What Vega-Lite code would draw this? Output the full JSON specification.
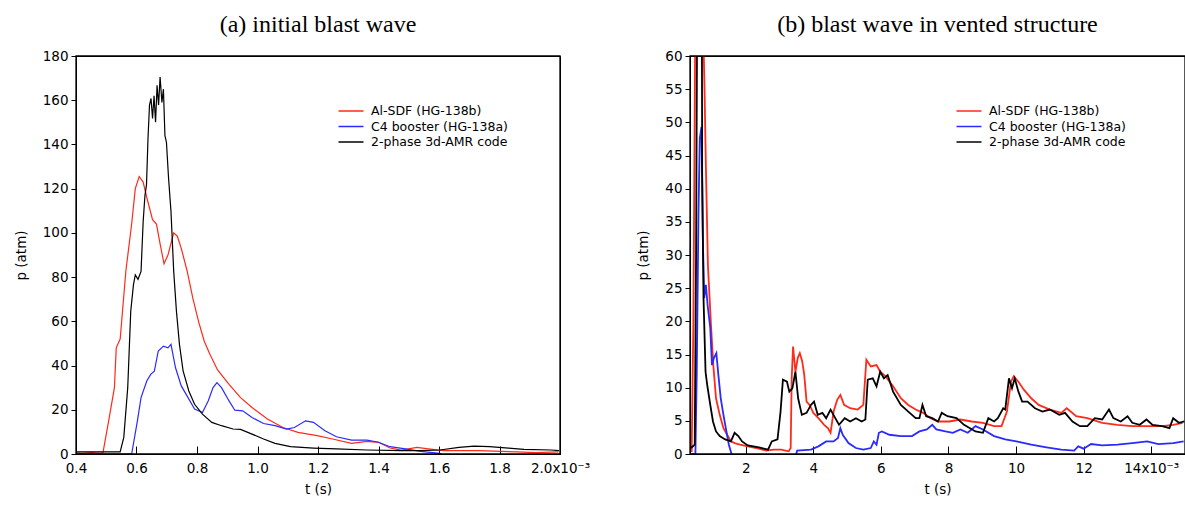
{
  "$schema": "https://vega.github.io/schema/vega-lite/v6.json",
  "padding": {"left": 13, "top": 12, "right": 0, "bottom": 0},
  "background": "white",
  "spacing": 45,
  "datasets": {
    "a": [
      {"series": "Al-SDF (HG-138b)", "t": 0.000400, "p": 0.5},
      {"series": "Al-SDF (HG-138b)", "t": 0.000420, "p": 0.3},
      {"series": "Al-SDF (HG-138b)", "t": 0.000450, "p": 0.6},
      {"series": "Al-SDF (HG-138b)", "t": 0.000470, "p": 0.4},
      {"series": "Al-SDF (HG-138b)", "t": 0.000489, "p": 0.5},
      {"series": "Al-SDF (HG-138b)", "t": 0.000508, "p": 15},
      {"series": "Al-SDF (HG-138b)", "t": 0.000527, "p": 30},
      {"series": "Al-SDF (HG-138b)", "t": 0.000533, "p": 48},
      {"series": "Al-SDF (HG-138b)", "t": 0.000546, "p": 52},
      {"series": "Al-SDF (HG-138b)", "t": 0.000565, "p": 83},
      {"series": "Al-SDF (HG-138b)", "t": 0.000584, "p": 104},
      {"series": "Al-SDF (HG-138b)", "t": 0.000596, "p": 120},
      {"series": "Al-SDF (HG-138b)", "t": 0.000609, "p": 125.5},
      {"series": "Al-SDF (HG-138b)", "t": 0.000622, "p": 123},
      {"series": "Al-SDF (HG-138b)", "t": 0.000634, "p": 116},
      {"series": "Al-SDF (HG-138b)", "t": 0.000653, "p": 106},
      {"series": "Al-SDF (HG-138b)", "t": 0.000666, "p": 104},
      {"series": "Al-SDF (HG-138b)", "t": 0.000678, "p": 95},
      {"series": "Al-SDF (HG-138b)", "t": 0.000691, "p": 86},
      {"series": "Al-SDF (HG-138b)", "t": 0.000704, "p": 90},
      {"series": "Al-SDF (HG-138b)", "t": 0.000723, "p": 100},
      {"series": "Al-SDF (HG-138b)", "t": 0.000735, "p": 98.5},
      {"series": "Al-SDF (HG-138b)", "t": 0.000748, "p": 93},
      {"series": "Al-SDF (HG-138b)", "t": 0.000767, "p": 83},
      {"series": "Al-SDF (HG-138b)", "t": 0.000786, "p": 70.6},
      {"series": "Al-SDF (HG-138b)", "t": 0.000805, "p": 60},
      {"series": "Al-SDF (HG-138b)", "t": 0.000824, "p": 51},
      {"series": "Al-SDF (HG-138b)", "t": 0.000843, "p": 45},
      {"series": "Al-SDF (HG-138b)", "t": 0.000868, "p": 38},
      {"series": "Al-SDF (HG-138b)", "t": 0.000906, "p": 31.5},
      {"series": "Al-SDF (HG-138b)", "t": 0.000944, "p": 25.5},
      {"series": "Al-SDF (HG-138b)", "t": 0.000982, "p": 21},
      {"series": "Al-SDF (HG-138b)", "t": 0.001033, "p": 15.8},
      {"series": "Al-SDF (HG-138b)", "t": 0.001084, "p": 12},
      {"series": "Al-SDF (HG-138b)", "t": 0.001134, "p": 9.8},
      {"series": "Al-SDF (HG-138b)", "t": 0.001197, "p": 8.3},
      {"series": "Al-SDF (HG-138b)", "t": 0.001248, "p": 6.8},
      {"series": "Al-SDF (HG-138b)", "t": 0.001311, "p": 4.8},
      {"series": "Al-SDF (HG-138b)", "t": 0.001362, "p": 5.7},
      {"series": "Al-SDF (HG-138b)", "t": 0.001400, "p": 5.3},
      {"series": "Al-SDF (HG-138b)", "t": 0.001438, "p": 2.7},
      {"series": "Al-SDF (HG-138b)", "t": 0.001476, "p": 1.8},
      {"series": "Al-SDF (HG-138b)", "t": 0.001527, "p": 3},
      {"series": "Al-SDF (HG-138b)", "t": 0.001565, "p": 2.3},
      {"series": "Al-SDF (HG-138b)", "t": 0.001615, "p": 1.5},
      {"series": "Al-SDF (HG-138b)", "t": 0.001729, "p": 1.5},
      {"series": "Al-SDF (HG-138b)", "t": 0.001856, "p": 1},
      {"series": "Al-SDF (HG-138b)", "t": 0.001919, "p": 0.6},
      {"series": "Al-SDF (HG-138b)", "t": 0.001995, "p": 1},

      {"series": "C4 booster (HG-138a)", "t": 0.000400, "p": 0},
      {"series": "C4 booster (HG-138a)", "t": 0.000584, "p": 0},
      {"series": "C4 booster (HG-138a)", "t": 0.000603, "p": 15},
      {"series": "C4 booster (HG-138a)", "t": 0.000615, "p": 25.5},
      {"series": "C4 booster (HG-138a)", "t": 0.000634, "p": 33},
      {"series": "C4 booster (HG-138a)", "t": 0.000647, "p": 36},
      {"series": "C4 booster (HG-138a)", "t": 0.000659, "p": 37.5},
      {"series": "C4 booster (HG-138a)", "t": 0.000672, "p": 46.6},
      {"series": "C4 booster (HG-138a)", "t": 0.000689, "p": 48.8},
      {"series": "C4 booster (HG-138a)", "t": 0.000704, "p": 48},
      {"series": "C4 booster (HG-138a)", "t": 0.000714, "p": 49.6},
      {"series": "C4 booster (HG-138a)", "t": 0.000729, "p": 39},
      {"series": "C4 booster (HG-138a)", "t": 0.000748, "p": 30.8},
      {"series": "C4 booster (HG-138a)", "t": 0.000767, "p": 26.3},
      {"series": "C4 booster (HG-138a)", "t": 0.000792, "p": 20.3},
      {"series": "C4 booster (HG-138a)", "t": 0.000818, "p": 18.8},
      {"series": "C4 booster (HG-138a)", "t": 0.000837, "p": 24},
      {"series": "C4 booster (HG-138a)", "t": 0.000853, "p": 30},
      {"series": "C4 booster (HG-138a)", "t": 0.000866, "p": 32.3},
      {"series": "C4 booster (HG-138a)", "t": 0.000881, "p": 30},
      {"series": "C4 booster (HG-138a)", "t": 0.000906, "p": 24},
      {"series": "C4 booster (HG-138a)", "t": 0.000925, "p": 19.8},
      {"series": "C4 booster (HG-138a)", "t": 0.000951, "p": 19.5},
      {"series": "C4 booster (HG-138a)", "t": 0.000982, "p": 16.5},
      {"series": "C4 booster (HG-138a)", "t": 0.001020, "p": 13.8},
      {"series": "C4 booster (HG-138a)", "t": 0.001058, "p": 12.8},
      {"series": "C4 booster (HG-138a)", "t": 0.001096, "p": 11.3},
      {"series": "C4 booster (HG-138a)", "t": 0.001122, "p": 12},
      {"series": "C4 booster (HG-138a)", "t": 0.001159, "p": 15},
      {"series": "C4 booster (HG-138a)", "t": 0.001185, "p": 14.3},
      {"series": "C4 booster (HG-138a)", "t": 0.001223, "p": 10.5},
      {"series": "C4 booster (HG-138a)", "t": 0.001261, "p": 7.8},
      {"series": "C4 booster (HG-138a)", "t": 0.001311, "p": 6.3},
      {"series": "C4 booster (HG-138a)", "t": 0.001362, "p": 6.3},
      {"series": "C4 booster (HG-138a)", "t": 0.001400, "p": 5.3},
      {"series": "C4 booster (HG-138a)", "t": 0.001438, "p": 3.3},
      {"series": "C4 booster (HG-138a)", "t": 0.001489, "p": 2.3},
      {"series": "C4 booster (HG-138a)", "t": 0.001539, "p": 1.2},
      {"series": "C4 booster (HG-138a)", "t": 0.001603, "p": 0.3},
      {"series": "C4 booster (HG-138a)", "t": 0.001609, "p": 0},

      {"series": "2-phase 3d-AMR code", "t": 0.000400, "p": 1},
      {"series": "2-phase 3d-AMR code", "t": 0.000546, "p": 1},
      {"series": "2-phase 3d-AMR code", "t": 0.000558, "p": 7.5},
      {"series": "2-phase 3d-AMR code", "t": 0.000571, "p": 30},
      {"series": "2-phase 3d-AMR code", "t": 0.000581, "p": 64.6},
      {"series": "2-phase 3d-AMR code", "t": 0.000590, "p": 76.6},
      {"series": "2-phase 3d-AMR code", "t": 0.000596, "p": 81},
      {"series": "2-phase 3d-AMR code", "t": 0.000605, "p": 79},
      {"series": "2-phase 3d-AMR code", "t": 0.000615, "p": 82.6},
      {"series": "2-phase 3d-AMR code", "t": 0.000622, "p": 105},
      {"series": "2-phase 3d-AMR code", "t": 0.000628, "p": 117},
      {"series": "2-phase 3d-AMR code", "t": 0.000633, "p": 121.7},
      {"series": "2-phase 3d-AMR code", "t": 0.000638, "p": 142.7},
      {"series": "2-phase 3d-AMR code", "t": 0.000643, "p": 157.8},
      {"series": "2-phase 3d-AMR code", "t": 0.000648, "p": 160.8},
      {"series": "2-phase 3d-AMR code", "t": 0.000653, "p": 151.7},
      {"series": "2-phase 3d-AMR code", "t": 0.000658, "p": 162},
      {"series": "2-phase 3d-AMR code", "t": 0.000663, "p": 150},
      {"series": "2-phase 3d-AMR code", "t": 0.000668, "p": 166.8},
      {"series": "2-phase 3d-AMR code", "t": 0.000673, "p": 157.8},
      {"series": "2-phase 3d-AMR code", "t": 0.000678, "p": 170.5},
      {"series": "2-phase 3d-AMR code", "t": 0.000684, "p": 159},
      {"series": "2-phase 3d-AMR code", "t": 0.000689, "p": 165},
      {"series": "2-phase 3d-AMR code", "t": 0.000694, "p": 144},
      {"series": "2-phase 3d-AMR code", "t": 0.000699, "p": 141},
      {"series": "2-phase 3d-AMR code", "t": 0.000706, "p": 124.7},
      {"series": "2-phase 3d-AMR code", "t": 0.000714, "p": 109.7},
      {"series": "2-phase 3d-AMR code", "t": 0.000723, "p": 82.6},
      {"series": "2-phase 3d-AMR code", "t": 0.000732, "p": 64.6},
      {"series": "2-phase 3d-AMR code", "t": 0.000742, "p": 49.6},
      {"series": "2-phase 3d-AMR code", "t": 0.000754, "p": 37.6},
      {"series": "2-phase 3d-AMR code", "t": 0.000773, "p": 28.5},
      {"series": "2-phase 3d-AMR code", "t": 0.000792, "p": 22.5},
      {"series": "2-phase 3d-AMR code", "t": 0.000818, "p": 18},
      {"series": "2-phase 3d-AMR code", "t": 0.000849, "p": 14.3},
      {"series": "2-phase 3d-AMR code", "t": 0.000881, "p": 12.8},
      {"series": "2-phase 3d-AMR code", "t": 0.000919, "p": 11.3},
      {"series": "2-phase 3d-AMR code", "t": 0.000944, "p": 11.1},
      {"series": "2-phase 3d-AMR code", "t": 0.000982, "p": 9},
      {"series": "2-phase 3d-AMR code", "t": 0.001020, "p": 6.8},
      {"series": "2-phase 3d-AMR code", "t": 0.001058, "p": 4.8},
      {"series": "2-phase 3d-AMR code", "t": 0.001109, "p": 3.3},
      {"series": "2-phase 3d-AMR code", "t": 0.001185, "p": 2.7},
      {"series": "2-phase 3d-AMR code", "t": 0.001261, "p": 2.3},
      {"series": "2-phase 3d-AMR code", "t": 0.001362, "p": 1.8},
      {"series": "2-phase 3d-AMR code", "t": 0.001476, "p": 1.5},
      {"series": "2-phase 3d-AMR code", "t": 0.001539, "p": 1.5},
      {"series": "2-phase 3d-AMR code", "t": 0.001603, "p": 1.8},
      {"series": "2-phase 3d-AMR code", "t": 0.001666, "p": 3},
      {"series": "2-phase 3d-AMR code", "t": 0.001716, "p": 3.6},
      {"series": "2-phase 3d-AMR code", "t": 0.001767, "p": 3.3},
      {"series": "2-phase 3d-AMR code", "t": 0.001830, "p": 2.7},
      {"series": "2-phase 3d-AMR code", "t": 0.001881, "p": 2.1},
      {"series": "2-phase 3d-AMR code", "t": 0.001970, "p": 1.8},
      {"series": "2-phase 3d-AMR code", "t": 0.001997, "p": 1.5}
    ],
    "b": [
      {"series": "Al-SDF (HG-138b)", "t": 0.00040, "p": 0.3},
      {"series": "Al-SDF (HG-138b)", "t": 0.00045, "p": 20},
      {"series": "Al-SDF (HG-138b)", "t": 0.00050, "p": 60},
      {"series": "Al-SDF (HG-138b)", "t": 0.00055, "p": 100},
      {"series": "Al-SDF (HG-138b)", "t": 0.00061, "p": 125},
      {"series": "Al-SDF (HG-138b)", "t": 0.00066, "p": 104},
      {"series": "Al-SDF (HG-138b)", "t": 0.00069, "p": 86},
      {"series": "Al-SDF (HG-138b)", "t": 0.00072, "p": 100},
      {"series": "Al-SDF (HG-138b)", "t": 0.00075, "p": 62},
      {"series": "Al-SDF (HG-138b)", "t": 0.00078, "p": 55},
      {"series": "Al-SDF (HG-138b)", "t": 0.00082, "p": 43.5},
      {"series": "Al-SDF (HG-138b)", "t": 0.00085, "p": 36},
      {"series": "Al-SDF (HG-138b)", "t": 0.00088, "p": 28.5},
      {"series": "Al-SDF (HG-138b)", "t": 0.00093, "p": 23.5},
      {"series": "Al-SDF (HG-138b)", "t": 0.00097, "p": 19.5},
      {"series": "Al-SDF (HG-138b)", "t": 0.00104, "p": 13.4},
      {"series": "Al-SDF (HG-138b)", "t": 0.00112, "p": 8.4},
      {"series": "Al-SDF (HG-138b)", "t": 0.00123, "p": 5.9},
      {"series": "Al-SDF (HG-138b)", "t": 0.00134, "p": 3.9},
      {"series": "Al-SDF (HG-138b)", "t": 0.00145, "p": 2.9},
      {"series": "Al-SDF (HG-138b)", "t": 0.00156, "p": 1.9},
      {"series": "Al-SDF (HG-138b)", "t": 0.00167, "p": 1.65},
      {"series": "Al-SDF (HG-138b)", "t": 0.00183, "p": 1.4},
      {"series": "Al-SDF (HG-138b)", "t": 0.00206, "p": 1.15},
      {"series": "Al-SDF (HG-138b)", "t": 0.00239, "p": 0.8},
      {"series": "Al-SDF (HG-138b)", "t": 0.00261, "p": 0.5},
      {"series": "Al-SDF (HG-138b)", "t": 0.00283, "p": 0.65},
      {"series": "Al-SDF (HG-138b)", "t": 0.00305, "p": 0.65},
      {"series": "Al-SDF (HG-138b)", "t": 0.00327, "p": 0.4},
      {"series": "Al-SDF (HG-138b)", "t": 0.00333, "p": 0.9},
      {"series": "Al-SDF (HG-138b)", "t": 0.00336, "p": 11.4},
      {"series": "Al-SDF (HG-138b)", "t": 0.00340, "p": 16.2},
      {"series": "Al-SDF (HG-138b)", "t": 0.00347, "p": 12.4},
      {"series": "Al-SDF (HG-138b)", "t": 0.00354, "p": 14.5},
      {"series": "Al-SDF (HG-138b)", "t": 0.00360, "p": 15.2},
      {"series": "Al-SDF (HG-138b)", "t": 0.00367, "p": 14},
      {"series": "Al-SDF (HG-138b)", "t": 0.00373, "p": 12},
      {"series": "Al-SDF (HG-138b)", "t": 0.00380, "p": 7.9},
      {"series": "Al-SDF (HG-138b)", "t": 0.00389, "p": 7.4},
      {"series": "Al-SDF (HG-138b)", "t": 0.00400, "p": 6.2},
      {"series": "Al-SDF (HG-138b)", "t": 0.00415, "p": 5.4},
      {"series": "Al-SDF (HG-138b)", "t": 0.00432, "p": 4.4},
      {"series": "Al-SDF (HG-138b)", "t": 0.00443, "p": 3.9},
      {"series": "Al-SDF (HG-138b)", "t": 0.00451, "p": 3.2},
      {"series": "Al-SDF (HG-138b)", "t": 0.00460, "p": 6.4},
      {"series": "Al-SDF (HG-138b)", "t": 0.00471, "p": 8.2},
      {"series": "Al-SDF (HG-138b)", "t": 0.00480, "p": 8.9},
      {"series": "Al-SDF (HG-138b)", "t": 0.00491, "p": 7.4},
      {"series": "Al-SDF (HG-138b)", "t": 0.00509, "p": 6.9},
      {"series": "Al-SDF (HG-138b)", "t": 0.00531, "p": 6.7},
      {"series": "Al-SDF (HG-138b)", "t": 0.00548, "p": 7.4},
      {"series": "Al-SDF (HG-138b)", "t": 0.00557, "p": 14.2},
      {"series": "Al-SDF (HG-138b)", "t": 0.00570, "p": 13.2},
      {"series": "Al-SDF (HG-138b)", "t": 0.00587, "p": 13.4},
      {"series": "Al-SDF (HG-138b)", "t": 0.00598, "p": 12.4},
      {"series": "Al-SDF (HG-138b)", "t": 0.00614, "p": 11.7},
      {"series": "Al-SDF (HG-138b)", "t": 0.00636, "p": 10.2},
      {"series": "Al-SDF (HG-138b)", "t": 0.00659, "p": 8.4},
      {"series": "Al-SDF (HG-138b)", "t": 0.00681, "p": 7.4},
      {"series": "Al-SDF (HG-138b)", "t": 0.00703, "p": 6.7},
      {"series": "Al-SDF (HG-138b)", "t": 0.00725, "p": 6.2},
      {"series": "Al-SDF (HG-138b)", "t": 0.00747, "p": 5.4},
      {"series": "Al-SDF (HG-138b)", "t": 0.00769, "p": 4.9},
      {"series": "Al-SDF (HG-138b)", "t": 0.00802, "p": 4.9},
      {"series": "Al-SDF (HG-138b)", "t": 0.00835, "p": 5.2},
      {"series": "Al-SDF (HG-138b)", "t": 0.00869, "p": 4.9},
      {"series": "Al-SDF (HG-138b)", "t": 0.00902, "p": 4.7},
      {"series": "Al-SDF (HG-138b)", "t": 0.00935, "p": 4.2},
      {"series": "Al-SDF (HG-138b)", "t": 0.00957, "p": 4.2},
      {"series": "Al-SDF (HG-138b)", "t": 0.00973, "p": 6.4},
      {"series": "Al-SDF (HG-138b)", "t": 0.00985, "p": 10.9},
      {"series": "Al-SDF (HG-138b)", "t": 0.00993, "p": 11.7},
      {"series": "Al-SDF (HG-138b)", "t": 0.01007, "p": 10.9},
      {"series": "Al-SDF (HG-138b)", "t": 0.01023, "p": 9.7},
      {"series": "Al-SDF (HG-138b)", "t": 0.01045, "p": 8.4},
      {"series": "Al-SDF (HG-138b)", "t": 0.01067, "p": 7.4},
      {"series": "Al-SDF (HG-138b)", "t": 0.01100, "p": 6.7},
      {"series": "Al-SDF (HG-138b)", "t": 0.01134, "p": 6.2},
      {"series": "Al-SDF (HG-138b)", "t": 0.01150, "p": 6.9},
      {"series": "Al-SDF (HG-138b)", "t": 0.01178, "p": 5.7},
      {"series": "Al-SDF (HG-138b)", "t": 0.01211, "p": 5.4},
      {"series": "Al-SDF (HG-138b)", "t": 0.01255, "p": 4.7},
      {"series": "Al-SDF (HG-138b)", "t": 0.01300, "p": 4.4},
      {"series": "Al-SDF (HG-138b)", "t": 0.01344, "p": 4.2},
      {"series": "Al-SDF (HG-138b)", "t": 0.01388, "p": 4.2},
      {"series": "Al-SDF (HG-138b)", "t": 0.01432, "p": 4.2},
      {"series": "Al-SDF (HG-138b)", "t": 0.01465, "p": 4.4},
      {"series": "Al-SDF (HG-138b)", "t": 0.01493, "p": 4.7},

      {"series": "C4 booster (HG-138a)", "t": 0.00040, "p": 0},
      {"series": "C4 booster (HG-138a)", "t": 0.00051, "p": 0},
      {"series": "C4 booster (HG-138a)", "t": 0.00055, "p": 12.4},
      {"series": "C4 booster (HG-138a)", "t": 0.00060, "p": 36},
      {"series": "C4 booster (HG-138a)", "t": 0.00064, "p": 47.6},
      {"series": "C4 booster (HG-138a)", "t": 0.00069, "p": 49.3},
      {"series": "C4 booster (HG-138a)", "t": 0.00073, "p": 32.5},
      {"series": "C4 booster (HG-138a)", "t": 0.00077, "p": 23.5},
      {"series": "C4 booster (HG-138a)", "t": 0.00082, "p": 25.5},
      {"series": "C4 booster (HG-138a)", "t": 0.00087, "p": 22.5},
      {"series": "C4 booster (HG-138a)", "t": 0.00095, "p": 19},
      {"series": "C4 booster (HG-138a)", "t": 0.00100, "p": 13.4},
      {"series": "C4 booster (HG-138a)", "t": 0.00106, "p": 14.5},
      {"series": "C4 booster (HG-138a)", "t": 0.00113, "p": 15.2},
      {"series": "C4 booster (HG-138a)", "t": 0.00119, "p": 11.9},
      {"series": "C4 booster (HG-138a)", "t": 0.00126, "p": 8.4},
      {"series": "C4 booster (HG-138a)", "t": 0.00134, "p": 5.9},
      {"series": "C4 booster (HG-138a)", "t": 0.00141, "p": 3.9},
      {"series": "C4 booster (HG-138a)", "t": 0.00150, "p": 1.4},
      {"series": "C4 booster (HG-138a)", "t": 0.00158, "p": 0},
      {"series": "C4 booster (HG-138a)", "t": 0.00165, "p": -1},
      {"series": "C4 booster (HG-138a)", "t": 0.00345, "p": -1},
      {"series": "C4 booster (HG-138a)", "t": 0.00352, "p": 0.5},
      {"series": "C4 booster (HG-138a)", "t": 0.00393, "p": 0.65},
      {"series": "C4 booster (HG-138a)", "t": 0.00415, "p": 1.15},
      {"series": "C4 booster (HG-138a)", "t": 0.00438, "p": 1.9},
      {"series": "C4 booster (HG-138a)", "t": 0.00460, "p": 1.9},
      {"series": "C4 booster (HG-138a)", "t": 0.00473, "p": 2.4},
      {"series": "C4 booster (HG-138a)", "t": 0.00480, "p": 3.9},
      {"series": "C4 booster (HG-138a)", "t": 0.00487, "p": 2.9},
      {"series": "C4 booster (HG-138a)", "t": 0.00504, "p": 1.65},
      {"series": "C4 booster (HG-138a)", "t": 0.00526, "p": 0.9},
      {"series": "C4 booster (HG-138a)", "t": 0.00548, "p": 0.65},
      {"series": "C4 booster (HG-138a)", "t": 0.00570, "p": 0.9},
      {"series": "C4 booster (HG-138a)", "t": 0.00579, "p": 1.9},
      {"series": "C4 booster (HG-138a)", "t": 0.00587, "p": 1.4},
      {"series": "C4 booster (HG-138a)", "t": 0.00594, "p": 3.2},
      {"series": "C4 booster (HG-138a)", "t": 0.00603, "p": 3.4},
      {"series": "C4 booster (HG-138a)", "t": 0.00625, "p": 2.9},
      {"series": "C4 booster (HG-138a)", "t": 0.00659, "p": 2.7},
      {"series": "C4 booster (HG-138a)", "t": 0.00692, "p": 2.7},
      {"series": "C4 booster (HG-138a)", "t": 0.00714, "p": 3.4},
      {"series": "C4 booster (HG-138a)", "t": 0.00736, "p": 3.7},
      {"series": "C4 booster (HG-138a)", "t": 0.00752, "p": 4.4},
      {"series": "C4 booster (HG-138a)", "t": 0.00764, "p": 3.7},
      {"series": "C4 booster (HG-138a)", "t": 0.00791, "p": 3.4},
      {"series": "C4 booster (HG-138a)", "t": 0.00813, "p": 3.2},
      {"series": "C4 booster (HG-138a)", "t": 0.00835, "p": 3.7},
      {"series": "C4 booster (HG-138a)", "t": 0.00857, "p": 3.2},
      {"series": "C4 booster (HG-138a)", "t": 0.00880, "p": 4.2},
      {"series": "C4 booster (HG-138a)", "t": 0.00902, "p": 3.7},
      {"series": "C4 booster (HG-138a)", "t": 0.00935, "p": 2.7},
      {"series": "C4 booster (HG-138a)", "t": 0.00968, "p": 2.2},
      {"series": "C4 booster (HG-138a)", "t": 0.01001, "p": 1.9},
      {"series": "C4 booster (HG-138a)", "t": 0.01045, "p": 1.4},
      {"series": "C4 booster (HG-138a)", "t": 0.01090, "p": 1.0},
      {"series": "C4 booster (HG-138a)", "t": 0.01134, "p": 0.65},
      {"series": "C4 booster (HG-138a)", "t": 0.01172, "p": 0.5},
      {"series": "C4 booster (HG-138a)", "t": 0.01184, "p": 1.15},
      {"series": "C4 booster (HG-138a)", "t": 0.01200, "p": 0.8},
      {"series": "C4 booster (HG-138a)", "t": 0.01222, "p": 1.5},
      {"series": "C4 booster (HG-138a)", "t": 0.01255, "p": 1.3},
      {"series": "C4 booster (HG-138a)", "t": 0.01300, "p": 1.4},
      {"series": "C4 booster (HG-138a)", "t": 0.01344, "p": 1.65},
      {"series": "C4 booster (HG-138a)", "t": 0.01388, "p": 1.9},
      {"series": "C4 booster (HG-138a)", "t": 0.01421, "p": 1.5},
      {"series": "C4 booster (HG-138a)", "t": 0.01465, "p": 1.65},
      {"series": "C4 booster (HG-138a)", "t": 0.01496, "p": 1.9},

      {"series": "2-phase 3d-AMR code", "t": 0.00038, "p": 0.9},
      {"series": "2-phase 3d-AMR code", "t": 0.00049, "p": 1.4},
      {"series": "2-phase 3d-AMR code", "t": 0.00053, "p": 30},
      {"series": "2-phase 3d-AMR code", "t": 0.00056, "p": 65},
      {"series": "2-phase 3d-AMR code", "t": 0.00060, "p": 80},
      {"series": "2-phase 3d-AMR code", "t": 0.00063, "p": 120},
      {"series": "2-phase 3d-AMR code", "t": 0.00065, "p": 160},
      {"series": "2-phase 3d-AMR code", "t": 0.00068, "p": 170},
      {"series": "2-phase 3d-AMR code", "t": 0.00069, "p": 100},
      {"series": "2-phase 3d-AMR code", "t": 0.00071, "p": 42.5},
      {"series": "2-phase 3d-AMR code", "t": 0.00075, "p": 23.5},
      {"series": "2-phase 3d-AMR code", "t": 0.00081, "p": 12.4},
      {"series": "2-phase 3d-AMR code", "t": 0.00086, "p": 10.4},
      {"series": "2-phase 3d-AMR code", "t": 0.00095, "p": 7.4},
      {"series": "2-phase 3d-AMR code", "t": 0.00103, "p": 4.9},
      {"series": "2-phase 3d-AMR code", "t": 0.00112, "p": 3.4},
      {"series": "2-phase 3d-AMR code", "t": 0.00123, "p": 2.7},
      {"series": "2-phase 3d-AMR code", "t": 0.00139, "p": 2.2},
      {"series": "2-phase 3d-AMR code", "t": 0.00156, "p": 1.9},
      {"series": "2-phase 3d-AMR code", "t": 0.00167, "p": 3.2},
      {"series": "2-phase 3d-AMR code", "t": 0.00178, "p": 2.7},
      {"series": "2-phase 3d-AMR code", "t": 0.00189, "p": 1.9},
      {"series": "2-phase 3d-AMR code", "t": 0.00206, "p": 1.3},
      {"series": "2-phase 3d-AMR code", "t": 0.00239, "p": 1.0},
      {"series": "2-phase 3d-AMR code", "t": 0.00266, "p": 0.65},
      {"series": "2-phase 3d-AMR code", "t": 0.00277, "p": 1.9},
      {"series": "2-phase 3d-AMR code", "t": 0.00294, "p": 2.2},
      {"series": "2-phase 3d-AMR code", "t": 0.00303, "p": 6.4},
      {"series": "2-phase 3d-AMR code", "t": 0.00310, "p": 11.2},
      {"series": "2-phase 3d-AMR code", "t": 0.00322, "p": 10.9},
      {"series": "2-phase 3d-AMR code", "t": 0.00329, "p": 9.4},
      {"series": "2-phase 3d-AMR code", "t": 0.00338, "p": 9.9},
      {"series": "2-phase 3d-AMR code", "t": 0.00347, "p": 12.4},
      {"series": "2-phase 3d-AMR code", "t": 0.00355, "p": 8.4},
      {"series": "2-phase 3d-AMR code", "t": 0.00366, "p": 5.9},
      {"series": "2-phase 3d-AMR code", "t": 0.00380, "p": 6.2},
      {"series": "2-phase 3d-AMR code", "t": 0.00393, "p": 7.4},
      {"series": "2-phase 3d-AMR code", "t": 0.00402, "p": 7.9},
      {"series": "2-phase 3d-AMR code", "t": 0.00413, "p": 5.9},
      {"series": "2-phase 3d-AMR code", "t": 0.00427, "p": 6.2},
      {"series": "2-phase 3d-AMR code", "t": 0.00438, "p": 5.4},
      {"series": "2-phase 3d-AMR code", "t": 0.00451, "p": 6.7},
      {"series": "2-phase 3d-AMR code", "t": 0.00465, "p": 5.4},
      {"series": "2-phase 3d-AMR code", "t": 0.00476, "p": 4.4},
      {"series": "2-phase 3d-AMR code", "t": 0.00493, "p": 5.4},
      {"series": "2-phase 3d-AMR code", "t": 0.00509, "p": 4.9},
      {"series": "2-phase 3d-AMR code", "t": 0.00526, "p": 5.4},
      {"series": "2-phase 3d-AMR code", "t": 0.00543, "p": 4.9},
      {"series": "2-phase 3d-AMR code", "t": 0.00554, "p": 5.2},
      {"series": "2-phase 3d-AMR code", "t": 0.00561, "p": 11.2},
      {"series": "2-phase 3d-AMR code", "t": 0.00576, "p": 11.4},
      {"series": "2-phase 3d-AMR code", "t": 0.00587, "p": 10.2},
      {"series": "2-phase 3d-AMR code", "t": 0.00598, "p": 12.4},
      {"series": "2-phase 3d-AMR code", "t": 0.00609, "p": 11.4},
      {"series": "2-phase 3d-AMR code", "t": 0.00620, "p": 11.9},
      {"series": "2-phase 3d-AMR code", "t": 0.00636, "p": 9.4},
      {"series": "2-phase 3d-AMR code", "t": 0.00659, "p": 7.4},
      {"series": "2-phase 3d-AMR code", "t": 0.00681, "p": 6.4},
      {"series": "2-phase 3d-AMR code", "t": 0.00703, "p": 5.4},
      {"series": "2-phase 3d-AMR code", "t": 0.00714, "p": 5.4},
      {"series": "2-phase 3d-AMR code", "t": 0.00723, "p": 7.4},
      {"series": "2-phase 3d-AMR code", "t": 0.00734, "p": 5.7},
      {"series": "2-phase 3d-AMR code", "t": 0.00752, "p": 5.4},
      {"series": "2-phase 3d-AMR code", "t": 0.00769, "p": 4.9},
      {"series": "2-phase 3d-AMR code", "t": 0.00780, "p": 6.2},
      {"series": "2-phase 3d-AMR code", "t": 0.00797, "p": 5.7},
      {"series": "2-phase 3d-AMR code", "t": 0.00824, "p": 5.4},
      {"series": "2-phase 3d-AMR code", "t": 0.00846, "p": 4.4},
      {"series": "2-phase 3d-AMR code", "t": 0.00880, "p": 3.4},
      {"series": "2-phase 3d-AMR code", "t": 0.00902, "p": 3.2},
      {"series": "2-phase 3d-AMR code", "t": 0.00918, "p": 5.4},
      {"series": "2-phase 3d-AMR code", "t": 0.00935, "p": 4.9},
      {"series": "2-phase 3d-AMR code", "t": 0.00946, "p": 5.4},
      {"series": "2-phase 3d-AMR code", "t": 0.00962, "p": 6.9},
      {"series": "2-phase 3d-AMR code", "t": 0.00968, "p": 6.7},
      {"series": "2-phase 3d-AMR code", "t": 0.00979, "p": 11.4},
      {"series": "2-phase 3d-AMR code", "t": 0.00988, "p": 9.9},
      {"series": "2-phase 3d-AMR code", "t": 0.00996, "p": 11.4},
      {"series": "2-phase 3d-AMR code", "t": 0.01007, "p": 9.4},
      {"series": "2-phase 3d-AMR code", "t": 0.01018, "p": 7.9},
      {"series": "2-phase 3d-AMR code", "t": 0.01034, "p": 7.9},
      {"series": "2-phase 3d-AMR code", "t": 0.01056, "p": 6.9},
      {"series": "2-phase 3d-AMR code", "t": 0.01078, "p": 6.4},
      {"series": "2-phase 3d-AMR code", "t": 0.01100, "p": 6.7},
      {"series": "2-phase 3d-AMR code", "t": 0.01128, "p": 5.9},
      {"series": "2-phase 3d-AMR code", "t": 0.01145, "p": 6.2},
      {"series": "2-phase 3d-AMR code", "t": 0.01167, "p": 4.9},
      {"series": "2-phase 3d-AMR code", "t": 0.01189, "p": 4.2},
      {"series": "2-phase 3d-AMR code", "t": 0.01211, "p": 4.2},
      {"series": "2-phase 3d-AMR code", "t": 0.01233, "p": 5.4},
      {"series": "2-phase 3d-AMR code", "t": 0.01255, "p": 5.2},
      {"series": "2-phase 3d-AMR code", "t": 0.01275, "p": 6.7},
      {"series": "2-phase 3d-AMR code", "t": 0.01288, "p": 5.4},
      {"series": "2-phase 3d-AMR code", "t": 0.01310, "p": 4.9},
      {"series": "2-phase 3d-AMR code", "t": 0.01330, "p": 5.7},
      {"series": "2-phase 3d-AMR code", "t": 0.01344, "p": 4.7},
      {"series": "2-phase 3d-AMR code", "t": 0.01366, "p": 4.4},
      {"series": "2-phase 3d-AMR code", "t": 0.01386, "p": 5.2},
      {"series": "2-phase 3d-AMR code", "t": 0.01404, "p": 4.4},
      {"series": "2-phase 3d-AMR code", "t": 0.01432, "p": 4.2},
      {"series": "2-phase 3d-AMR code", "t": 0.01454, "p": 3.9},
      {"series": "2-phase 3d-AMR code", "t": 0.01465, "p": 5.4},
      {"series": "2-phase 3d-AMR code", "t": 0.01482, "p": 4.7},
      {"series": "2-phase 3d-AMR code", "t": 0.01498, "p": 4.9}
    ],
    "frameA": [
      {"k": "frame", "o": 1, "t": 0.0004, "p": 0},
      {"k": "frame", "o": 2, "t": 0.002, "p": 0},
      {"k": "frame", "o": 3, "t": 0.002, "p": 180},
      {"k": "frame", "o": 4, "t": 0.0004, "p": 180},
      {"k": "frame", "o": 5, "t": 0.0004, "p": 0}
    ],
    "frameB": [
      {"k": "frame", "o": 1, "t": 0.00035, "p": 0},
      {"k": "frame", "o": 2, "t": 0.015, "p": 0},
      {"k": "frame", "o": 3, "t": 0.015, "p": 60},
      {"k": "frame", "o": 4, "t": 0.00035, "p": 60},
      {"k": "frame", "o": 5, "t": 0.00035, "p": 0}
    ]
  },
  "hconcat": [
    {
      "width": 484,
      "height": 398,
      "title": {"text": "(a) initial blast wave", "font": "Liberation Serif", "fontSize": 24, "fontWeight": "normal", "color": "black", "anchor": "middle", "offset": 12},
      "layer": [
        {
          "data": {"name": "a"},
          "mark": {"type": "line", "clip": true, "strokeWidth": 1.2},
          "encoding": {
            "x": {"field": "t", "type": "quantitative", "scale": {"domain": [0.0004, 0.002], "nice": false, "zero": false},
              "axis": {"orient": "bottom", "values": [0.0004, 0.0006, 0.0008, 0.001, 0.0012, 0.0014, 0.0016, 0.0018, 0.002], "labelExpr": "datum.value > 0.00199 ? '2.0x10⁻³' : format(datum.value*1000, '.1f')", "tickSize": -8, "labelPadding": 15, "title": "t (s)", "titlePadding": 8}},
            "y": {"field": "p", "type": "quantitative", "scale": {"domain": [0, 180], "nice": false},
              "axis": {"orient": "left", "values": [0, 20, 40, 60, 80, 100, 120, 140, 160, 180], "tickSize": 5, "labelPadding": 3, "title": "p (atm)", "titlePadding": 14}},
            "color": {"field": "series", "type": "nominal",
              "scale": {"domain": ["Al-SDF (HG-138b)", "C4 booster (HG-138a)", "2-phase 3d-AMR code"], "range": ["#ff2a1a", "#2a2aff", "#000000"]},
              "legend": {"orient": "none", "legendX": 268, "legendY": 48, "title": null}}
          }
        },
        {
          "data": {"name": "frameA"},
          "mark": {"type": "line", "strokeWidth": 1.3},
          "encoding": {
            "x": {"field": "t", "type": "quantitative", "axis": null},
            "y": {"field": "p", "type": "quantitative", "axis": null},
            "order": {"field": "o", "type": "quantitative"},
            "stroke": {"field": "k", "type": "nominal", "scale": {"domain": ["frame"], "range": ["#000000"]}, "legend": null}
          }
        }
      ],
      "resolve": {"axis": {"x": "independent", "y": "independent"}}
    },
    {
      "width": 495,
      "height": 398,
      "title": {"text": "(b) blast wave in vented structure", "font": "Liberation Serif", "fontSize": 24, "fontWeight": "normal", "color": "black", "anchor": "middle", "offset": 12},
      "layer": [
        {
          "data": {"name": "b"},
          "mark": {"type": "line", "clip": true},
          "encoding": {
            "x": {"field": "t", "type": "quantitative", "scale": {"domain": [0.00035, 0.015], "nice": false, "zero": false},
              "axis": {"orient": "bottom", "values": [0.002, 0.004, 0.006, 0.008, 0.01, 0.012, 0.014], "labelExpr": "datum.value > 0.0139 ? '14x10⁻³' : format(datum.value*1000, 'd')", "tickSize": -8, "labelPadding": 15, "title": "t (s)", "titlePadding": 8}},
            "y": {"field": "p", "type": "quantitative", "scale": {"domain": [0, 60], "nice": false},
              "axis": {"orient": "left", "values": [0, 5, 10, 15, 20, 25, 30, 35, 40, 45, 50, 55, 60], "tickSize": 5, "labelPadding": 3, "title": "p (atm)", "titlePadding": 14}},
            "color": {"field": "series", "type": "nominal",
              "scale": {"domain": ["Al-SDF (HG-138b)", "C4 booster (HG-138a)", "2-phase 3d-AMR code"], "range": ["#ff2a1a", "#2a2aff", "#000000"]},
              "legend": {"orient": "none", "legendX": 272, "legendY": 48, "title": null}},
            "strokeWidth": {"field": "series", "type": "nominal", "scale": {"domain": ["Al-SDF (HG-138b)", "C4 booster (HG-138a)", "2-phase 3d-AMR code"], "range": [1.8, 1.8, 1.3]}, "legend": null}
          }
        },
        {
          "data": {"name": "frameB"},
          "mark": {"type": "line", "strokeWidth": 1.3},
          "encoding": {
            "x": {"field": "t", "type": "quantitative", "axis": null},
            "y": {"field": "p", "type": "quantitative", "axis": null},
            "order": {"field": "o", "type": "quantitative"},
            "stroke": {"field": "k", "type": "nominal", "scale": {"domain": ["frame"], "range": ["#000000"]}, "legend": null}
          }
        }
      ],
      "resolve": {"axis": {"x": "independent", "y": "independent"}, "scale": {"strokeWidth": "independent"}}
    }
  ],
  "resolve": {"scale": {"x": "independent", "y": "independent", "color": "independent", "stroke": "independent", "strokeWidth": "independent"}, "legend": {"color": "independent"}},
  "config": {
    "view": {"stroke": "black", "strokeWidth": 1},
    "axis": {"grid": false, "domain": true, "ticks": true, "domainColor": "black", "tickColor": "black", "labelFont": "DejaVu Sans", "labelFontSize": 13.5, "labelColor": "black", "titleFont": "DejaVu Sans", "titleFontSize": 13.5, "titleFontWeight": "normal", "titleColor": "black", "labelFlush": false, "labelOverlap": false},
    "legend": {"symbolType": "M-2,0H2", "symbolSize": 156, "symbolStrokeWidth": 1.5, "labelFont": "DejaVu Sans", "labelFontSize": 12.5, "labelColor": "black", "labelOffset": 13, "rowPadding": 1.5, "padding": 0, "labelLimit": 300}
  }
}
